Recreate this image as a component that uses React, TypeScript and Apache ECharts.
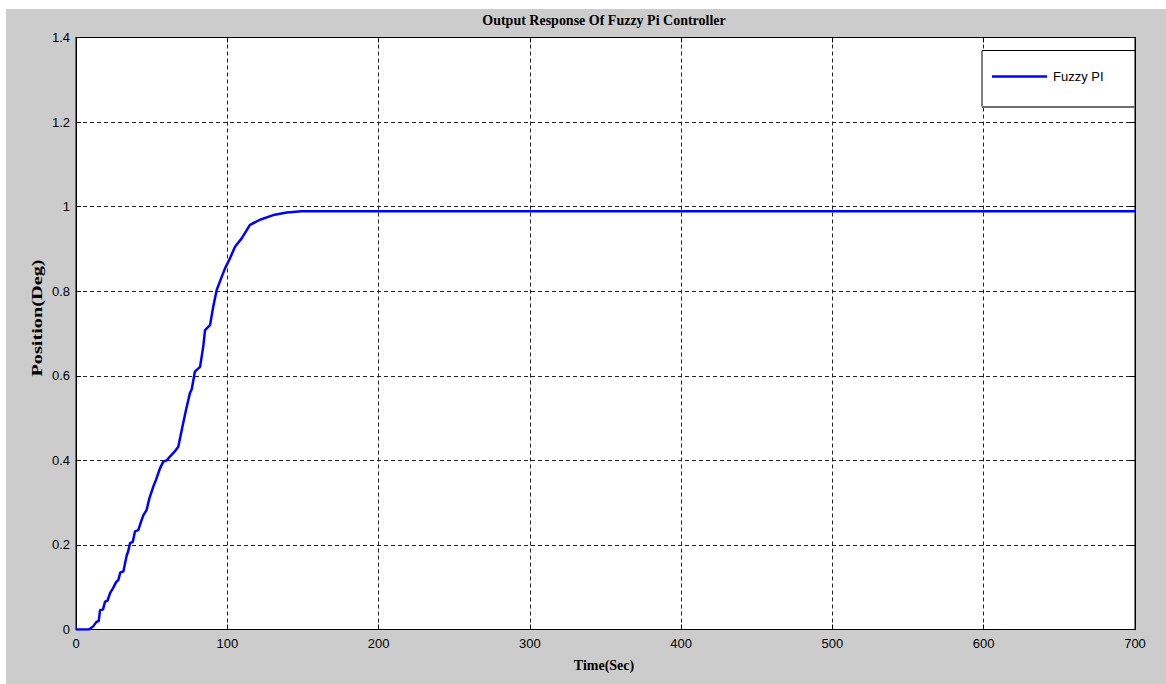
import React, { useEffect, useRef } from "react";
import * as echarts from "echarts";

const titleText = "Output Response Of Fuzzy Pi Controller";
const xAxisTitle = "Time(Sec)";
const yAxisTitle = "Position(Deg)";
const seriesName = "Fuzzy PI";

const timeSec = [
  0, 8.6, 11.5, 13.5, 15.0, 15.9, 17.8, 19.2, 20.8, 22.5, 24.5, 26.5, 28.0, 29.3, 31.3,
  33.5, 34.5, 35.8, 37.5, 39.0, 41.2, 43.0, 44.5, 46.7, 48.5, 51.1, 53.0, 55.5, 57.7,
  60.0, 62.1, 65.0, 67.6, 69.9, 72.7, 75.3, 76.5, 78.6, 82.0, 84.1, 85.3, 88.6, 90.7,
  93.0, 96.3, 98.5, 101.8, 105.1, 109.5, 115.0, 121.6, 130.4, 139.3, 149.2, 700,
];
const positionDeg = [
  0, 0, 0.008, 0.018, 0.02, 0.046, 0.047, 0.066, 0.068, 0.086, 0.098, 0.112, 0.117, 0.135, 0.137,
  0.175, 0.185, 0.205, 0.207, 0.232, 0.235, 0.255, 0.27, 0.283, 0.31, 0.338, 0.355, 0.381, 0.397,
  0.4, 0.409, 0.42, 0.432, 0.472, 0.519, 0.559, 0.568, 0.61, 0.621, 0.669, 0.708, 0.72, 0.763,
  0.803, 0.834, 0.854, 0.878, 0.905, 0.925, 0.957, 0.969, 0.98, 0.986, 0.989, 0.989,
];

const xTicks = { min: 0, max: 700, interval: 100 };
const yTicks = { min: 0, max: 1.4, interval: 0.2 };

export default function App() {
  const ref = useRef<HTMLDivElement>(null);

  useEffect(() => {
    if (!ref.current) return;
    const chart = echarts.init(ref.current, undefined, { renderer: "svg" });
    const data = timeSec.map((t, i) => [t, positionDeg[i]]);
    const labelStyle = {
      color: "#000",
      fontSize: 13,
      fontFamily: "'Liberation Sans', Arial, sans-serif",
    };
    const split = { show: true, lineStyle: { color: "#222", type: [4, 3] as any, width: 1 } };
    const tick = { show: true, inside: true, length: 5, lineStyle: { color: "#000" } };
    const line = { show: true, onZero: false, lineStyle: { color: "#000", width: 1 } };

    chart.setOption({
      animation: false,
      grid: {
        left: 76,
        top: 37.5,
        right: 31,
        bottom: 54.5,
        show: true,
        backgroundColor: "#fff",
        borderColor: "#000",
        borderWidth: 1,
      },
      xAxis: [
        {
          type: "value",
          ...xTicks,
          position: "bottom",
          axisLine: line,
          axisTick: tick,
          splitLine: split,
          axisLabel: { ...labelStyle, margin: 7 },
        },
        {
          type: "value",
          ...xTicks,
          position: "top",
          axisLine: line,
          axisTick: tick,
          splitLine: { show: false },
          axisLabel: { show: false },
        },
      ],
      yAxis: [
        {
          type: "value",
          ...yTicks,
          position: "left",
          axisLine: line,
          axisTick: tick,
          splitLine: split,
          axisLabel: { ...labelStyle, margin: 6 },
        },
        {
          type: "value",
          ...yTicks,
          position: "right",
          axisLine: line,
          axisTick: tick,
          splitLine: { show: false },
          axisLabel: { show: false },
        },
      ],
      legend: {
        show: true,
        left: 992,
        top: 70,
        padding: 0,
        itemWidth: 55,
        itemHeight: 2.5,
        itemGap: 7,
        z: 20,
        data: [{ name: seriesName, icon: "rect" }],
        textStyle: { ...labelStyle, padding: [0, 0, 0, 1] },
      },
      graphic: [
        {
          type: "rect",
          z: 10,
          shape: { x: 982, y: 50.5, width: 153, height: 56 },
          style: { fill: "#fff", stroke: "#000", lineWidth: 1 },
        },
        {
          type: "line",
          z: 11,
          shape: { x1: 982, y1: 107, x2: 1135, y2: 107 },
          style: { stroke: "#6e6e6e", lineWidth: 2 },
        },
        {
          type: "text",
          z: 10,
          x: 604,
          y: 20,
          scaleY: 1.08,
          style: {
            text: titleText,
            fill: "#000",
            font: "bold 14px 'Liberation Serif', 'Times New Roman', serif",
            align: "center",
            verticalAlign: "middle",
          },
        },
        {
          type: "text",
          z: 10,
          x: 604,
          y: 665,
          scaleY: 1.08,
          style: {
            text: xAxisTitle,
            fill: "#000",
            font: "bold 14px 'Liberation Serif', 'Times New Roman', serif",
            align: "center",
            verticalAlign: "middle",
          },
        },
        {
          type: "text",
          z: 10,
          x: 37,
          y: 318,
          rotation: Math.PI / 2,
          scaleX: 1.45,
          style: {
            text: yAxisTitle,
            fill: "#000",
            font: "bold 14px 'Liberation Serif', 'Times New Roman', serif",
            align: "center",
            verticalAlign: "middle",
          },
        },
      ],
      series: [
        {
          name: seriesName,
          type: "line",
          data,
          showSymbol: false,
          symbol: "none",
          itemStyle: { color: "#0000ff" },
          lineStyle: { color: "#0000ff", width: 2.5 },
          z: 5,
        },
      ],
    });
    return () => chart.dispose();
  }, []);

  return (
    <div style={{ position: "absolute", left: 0, top: 0, width: 1166, height: 684, background: "#fff" }}>
      <div
        style={{ position: "absolute", left: 6, top: 9, width: 1160, height: 675, background: "#cccccc" }}
      />
      <div ref={ref} style={{ position: "absolute", left: 0, top: 0, width: 1166, height: 684 }} />
    </div>
  );
}
